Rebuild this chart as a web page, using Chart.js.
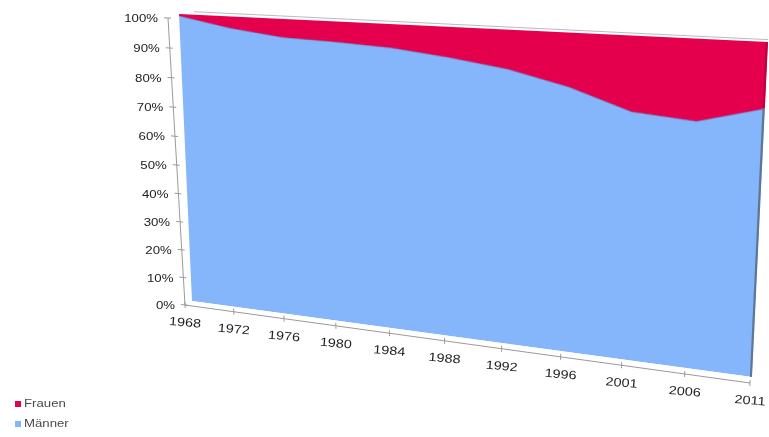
<!DOCTYPE html>
<html>
<head>
<meta charset="utf-8">
<script src="https://cdn.jsdelivr.net/npm/chart.js@4/dist/chart.umd.min.js"></script>
<style>
  html, body { margin: 0; padding: 0; background: #fff; }
  #stage { position: relative; width: 769px; height: 437px; overflow: hidden; background: #fff; }
  #plot { position: absolute; left: 0; top: 0; transform-origin: 0 0; }
  #frame { position: absolute; left: 0; top: 0; }
</style>
</head>
<body>
<div id="stage">
  <canvas id="plot" width="600" height="300"></canvas>
  <canvas id="frame" width="769" height="437"></canvas>
</div>
<script>
// Share of women and men per election year, in percent
const years = ['1968', '1972', '1976', '1980', '1984', '1988', '1992', '1996', '2001', '2006', '2011'];
const frauen = [0.6, 3.8, 5.9, 6.5, 7.4, 9.4, 12.0, 16.3, 22.5, 24.0, 19.0];
const maenner = [99.4, 96.2, 94.1, 93.5, 92.6, 90.6, 88.0, 83.7, 77.5, 76.0, 81.0];
const yTicks = [0, 10, 20, 30, 40, 50, 60, 70, 80, 90, 100];
const yTickLabels = ['0%', '10%', '20%', '30%', '40%', '50%', '60%', '70%', '80%', '90%', '100%'];

const RED = '#E5004E';
const BLUE = '#85B5FA';

// Flat drawing size of the plot canvas
const W = 600, H = 300;
// Screen corners of the tilted front face (TL, TR, BR, BL) and of the back wall carrying the axes
const FRONT = [[179, 14], [768, 42], [752, 377], [192, 301]];
const BACK = [[168, 18], [764, 47], [750, 383], [185, 305]];
const TEXT_STRETCH = 1.2;

// Projective map from the W x H rectangle onto a quadrilateral
function quadMap(q) {
  const [p0, p1, p2, p3] = q;
  const dx1 = p1[0] - p2[0], dx2 = p3[0] - p2[0], sx = p0[0] - p1[0] + p2[0] - p3[0];
  const dy1 = p1[1] - p2[1], dy2 = p3[1] - p2[1], sy = p0[1] - p1[1] + p2[1] - p3[1];
  const den = dx1 * dy2 - dx2 * dy1;
  const g = (sx * dy2 - dx2 * sy) / den;
  const h = (dx1 * sy - sx * dy1) / den;
  const a = p1[0] - p0[0] + g * p1[0], b = p3[0] - p0[0] + h * p3[0], c = p0[0];
  const d = p1[1] - p0[1] + g * p1[1], e = p3[1] - p0[1] + h * p3[1], f = p0[1];
  return { A: a / W, B: b / H, C: c, D: d / W, E: e / H, F: f, G: g / W, K: h / H };
}
function project(m, x, y) {
  const w = m.G * x + m.K * y + 1;
  return [(m.A * x + m.B * y + m.C) / w, (m.D * x + m.E * y + m.F) / w];
}
function unit(p, q) {
  const dx = q[0] - p[0], dy = q[1] - p[1], l = Math.hypot(dx, dy);
  return [dx / l, dy / l];
}

const front = quadMap(FRONT);
const back = quadMap(BACK);

const plotCanvas = document.getElementById('plot');
plotCanvas.style.transform = 'matrix3d(' + [
  front.A, front.D, 0, front.G,
  front.B, front.E, 0, front.K,
  0, 0, 1, 0,
  front.C, front.F, 0, 1
].join(',') + ')';

const frameCanvas = document.getElementById('frame');

function stretchedText(ctx, text, x, y, align, angle) {
  ctx.save();
  ctx.translate(x, y);
  if (angle) ctx.rotate(angle);
  ctx.scale(TEXT_STRETCH, 1);
  ctx.textAlign = align;
  ctx.textBaseline = 'middle';
  ctx.fillText(text, 0, 0);
  ctx.restore();
}

function line(ctx, p, q) {
  ctx.beginPath();
  ctx.moveTo(p[0], p[1]);
  ctx.lineTo(q[0], q[1]);
  ctx.stroke();
}

// Axes, labels, depth edges and legend, projected from the chart's own scales
const framePlugin = {
  id: 'perspectiveFrame',
  afterDraw(chart) {
    const ctx = frameCanvas.getContext('2d');
    ctx.clearRect(0, 0, frameCanvas.width, frameCanvas.height);
    const xs = chart.scales.x, ys = chart.scales.y;

    // top face edge
    ctx.strokeStyle = 'rgba(170,170,170,0.8)';
    ctx.lineWidth = 1;
    line(ctx, project(front, W * 0.03, -3), project(front, W, -2));

    // right side face
    const yb = ys.getPixelForValue(maenner[maenner.length - 1]);
    const side = (c, y0, y1) => {
      const pts = [project(front, W - 2, y0), project(front, W, y0), project(front, W, y1), project(front, W - 2, y1)];
      ctx.fillStyle = c;
      ctx.beginPath();
      pts.forEach((p, i) => i ? ctx.lineTo(p[0], p[1]) : ctx.moveTo(p[0], p[1]));
      ctx.closePath();
      ctx.fill();
    };
    side('#c0003f', 0, yb);
    side('#5f7796', yb, H);

    // axis lines on the back wall
    ctx.strokeStyle = '#9a9a9a';
    ctx.lineWidth = 1;
    const bl = project(back, 0, H);
    line(ctx, project(back, 0, 0), bl);
    line(ctx, bl, project(back, W, H));

    ctx.fillStyle = '#222';
    ctx.font = '11px "Liberation Sans", Arial, sans-serif';

    // value axis
    yTicks.forEach((v, i) => {
      const py = ys.getPixelForValue(v);
      const p = project(back, 0, py);
      const d = unit(p, project(back, 10, py));
      line(ctx, [p[0] - 4 * d[0], p[1] - 4 * d[1]], [p[0] + 3 * d[0], p[1] + 3 * d[1]]);
      stretchedText(ctx, yTickLabels[i], p[0] - 10, p[1] + 1, 'right', 0);
    });

    // category axis
    ctx.font = '12px "Liberation Sans", Arial, sans-serif';
    years.forEach((label, i) => {
      const px = xs.getPixelForValue(i);
      const p = project(back, px, H);
      const down = unit(project(back, px, H - 10), p);
      line(ctx, [p[0] - 3 * down[0], p[1] - 3 * down[1]], [p[0] + 3 * down[0], p[1] + 3 * down[1]]);
      const along = unit(p, project(back, Math.min(px + 10, W + 10), H));
      const ang = Math.atan2(along[1], along[0]) * 0.6;
      stretchedText(ctx, label, p[0], p[1] + 18, 'center', ang);
    });

    // legend, top series first
    const items = chart.data.datasets.slice().reverse();
    ctx.font = '11px "Liberation Sans", Arial, sans-serif';
    items.forEach((ds, i) => {
      const y = 404 + i * 20;
      ctx.fillStyle = ds.backgroundColor;
      ctx.fillRect(15, y - 3, 6, 6);
      ctx.fillStyle = '#4a4a4a';
      stretchedText(ctx, ds.label, 24, y, 'left', 0);
    });
  }
};

new Chart(plotCanvas, {
  type: 'line',
  data: {
    labels: years,
    datasets: [
      {
        label: 'Männer',
        data: maenner,
        fill: 'origin',
        backgroundColor: BLUE,
        borderColor: 'rgba(140,20,90,0.55)',
        borderWidth: 1,
        pointRadius: 0
      },
      {
        label: 'Frauen',
        data: frauen,
        fill: '-1',
        backgroundColor: RED,
        borderColor: RED,
        borderWidth: 0,
        pointRadius: 0
      }
    ]
  },
  options: {
    responsive: false,
    animation: false,
    devicePixelRatio: 2,
    layout: { padding: 0 },
    elements: { line: { tension: 0 } },
    scales: {
      x: { display: false, offset: false },
      y: { display: false, stacked: true, min: 0, max: 100 }
    },
    plugins: { legend: { display: false }, tooltip: { enabled: false } }
  },
  plugins: [framePlugin]
});
</script>
</body>
</html>
